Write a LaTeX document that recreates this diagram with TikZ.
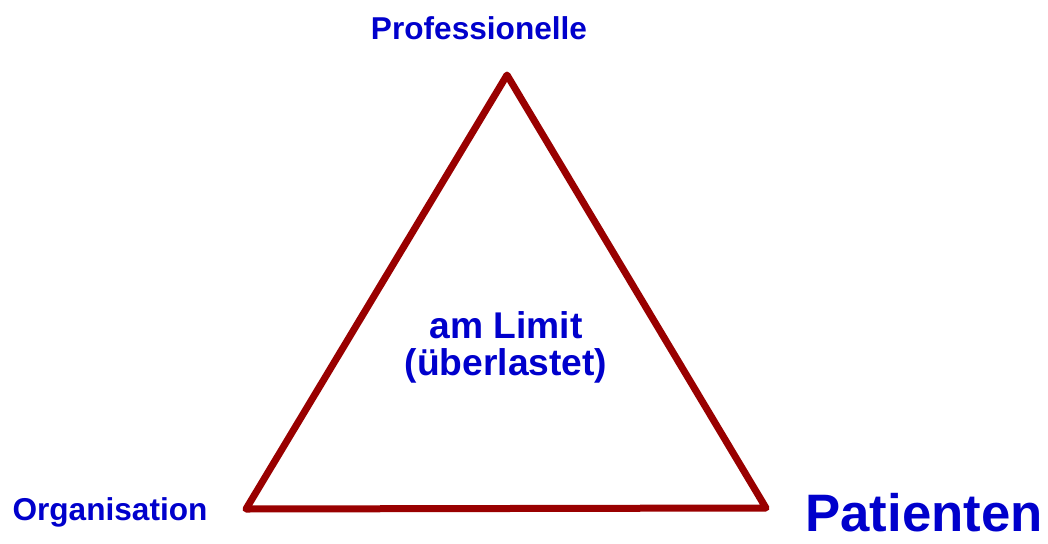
\documentclass[tikz,border=0pt]{standalone}
\usepackage{fontspec}
\setmainfont{Liberation Sans}
\definecolor{txtblue}{RGB}{0,0,204}
\definecolor{tridred}{RGB}{153,0,0}
\begin{document}
\begin{tikzpicture}[x=1pt,y=-1pt,
  lbl/.style={text=txtblue,font=\bfseries\fontsize{31.6}{36}\selectfont,anchor=base,inner sep=0pt},
  big/.style={text=txtblue,font=\bfseries\fontsize{52.7}{60}\selectfont,anchor=base,inner sep=0pt},
  mid/.style={text=txtblue,font=\bfseries\fontsize{37.2}{42}\selectfont,anchor=base,inner sep=0pt},
  tri/.style={draw=tridred,line width=7pt,line join=round,line cap=round}]
\useasboundingbox (0,0) rectangle (1048,543);
\coordinate (T) at (507,75);
\coordinate (L) at (246,509);
\coordinate (R) at (766,508);
\draw[tri] (T) -- (L) -- (R) -- cycle;
\node[lbl] (prof) at (479,39.5) {Professionelle};
\node[lbl] (org) at (110,520) {Organisation};
\node[big] (pat) at (924,531.5) {Patienten};
\node[mid] (lim1) at (506,338.5) {am Limit};
\node[mid] (lim2) at (506,375) {(überlastet)};
\end{tikzpicture}
\end{document}
